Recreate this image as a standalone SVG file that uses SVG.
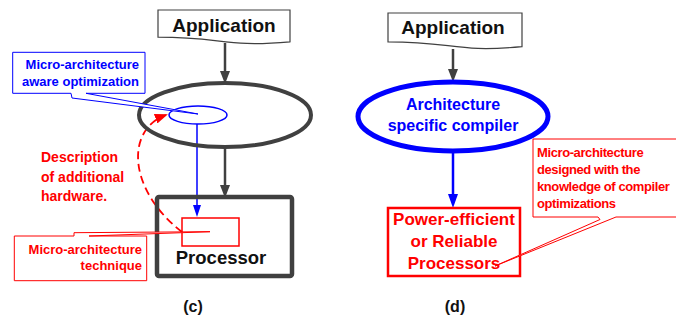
<svg xmlns="http://www.w3.org/2000/svg" width="676" height="322" viewBox="0 0 676 322">
  <style>
    text { font-family: "Liberation Sans", Arial, sans-serif; font-weight: bold; }
    .doc { fill: #ffffff; stroke: #404040; stroke-width: 1.2; }
    .docText { font-size: 19px; fill: #111111; text-anchor: middle; }
    .gray { stroke: #404040; stroke-width: 2.5; fill: none; }
    .blueThin { stroke: #0000ff; stroke-width: 1.5; fill: none; }
    .blueThick { stroke: #0000ff; stroke-width: 2.5; fill: none; }
    .redDash { stroke: #ff0000; stroke-width: 1.8; fill: none; stroke-dasharray: 8 4.5; }
    .calloutBlue { fill: #ffffff; stroke: #0000ff; stroke-width: 1; }
    .calloutRed { fill: #ffffff; stroke: #ff0000; stroke-width: 1; }
    .small { font-size: 13px; }
    .tight { letter-spacing: -0.4px; }
    .blueText { fill: #0000ff; }
    .redText { fill: #ff0000; }
    .caption { font-size: 16px; fill: #111111; text-anchor: middle; }
  </style>
  <defs>
    <marker id="headGray" markerUnits="userSpaceOnUse" viewBox="0 0 13 10" markerWidth="13" markerHeight="10" refX="7" refY="5" orient="auto">
      <path d="M0,0 L13,5 L0,10 Z" fill="#404040"/>
    </marker>
    <marker id="headBlueSmall" markerUnits="userSpaceOnUse" viewBox="0 0 12 8" markerWidth="12" markerHeight="8" refX="7" refY="4" orient="auto">
      <path d="M0,0 L12,4 L0,8 Z" fill="#0000ff"/>
    </marker>
    <marker id="headBlue" markerUnits="userSpaceOnUse" viewBox="0 0 14 10" markerWidth="14" markerHeight="10" refX="8" refY="5" orient="auto">
      <path d="M0,0 L14,5 L0,10 Z" fill="#0000ff"/>
    </marker>
    <marker id="headRed" markerUnits="userSpaceOnUse" viewBox="0 0 13 10" markerWidth="13" markerHeight="10" refX="11" refY="5" orient="auto">
      <path d="M0,0 L13,5 L0,10 Z" fill="#ff0000"/>
    </marker>
  </defs>

  <!-- connectors -->
  <g id="connectors">
    <line class="gray" x1="225" y1="43" x2="225" y2="78" marker-end="url(#headGray)"/>
    <line class="gray" x1="225" y1="148" x2="225" y2="192" marker-end="url(#headGray)"/>
    <line class="blueThin" x1="197" y1="124" x2="197" y2="212" marker-end="url(#headBlueSmall)"/>
    <path class="redDash" d="M182,232 C128,190 125,130 166,115" marker-end="url(#headRed)"/>
    <line class="gray" x1="453" y1="49" x2="453" y2="76" marker-end="url(#headGray)"/>
    <line class="blueThick" x1="453" y1="153" x2="453" y2="202" marker-end="url(#headBlue)"/>
  </g>

  <!-- (c) left panel -->
  <g id="app-c">
    <path class="doc" d="M158,10 H290 V41.8 C224,47.6 224,37.2 158,37.2 Z"/>
    <text class="docText" x="224" y="32">Application</text>
  </g>

  <g id="compiler-c">
    <ellipse cx="225" cy="115" rx="86" ry="32" fill="none" stroke="#404040" stroke-width="4"/>
  </g>

  <g id="optimization-c">
    <ellipse cx="198" cy="115" rx="29" ry="9" fill="none" stroke="#0000ff" stroke-width="1.5"/>
  </g>

  <g id="processor-c">
    <rect x="157" y="197" width="135" height="79" rx="2" fill="none" stroke="#404040" stroke-width="4.5"/>
    <text x="221" y="264" font-size="18.5px" fill="#111111" text-anchor="middle">Processor</text>
  </g>

  <g id="technique-c">
    <rect x="182" y="218" width="57" height="28" fill="none" stroke="#ff0000" stroke-width="1.5"/>
  </g>

  <g id="description-c">
    <text class="redText" font-size="14px" x="41" y="162">Description</text>
    <text class="redText" font-size="14px" x="41" y="182">of additional</text>
    <text class="redText" font-size="14px" x="41" y="201">hardware.</text>
  </g>

  <g id="callout-opt">
    <path class="calloutBlue" d="M12.7,52.3 H145 V93.3 H86 L198,114 L72,98 L71,93.3 H12.7 Z"/>
    <text class="small blueText" x="139" y="69" text-anchor="end">Micro-architecture</text>
    <text class="small blueText" x="139" y="86" text-anchor="end">aware optimization</text>
  </g>

  <g id="callout-tech">
    <path class="calloutRed" d="M14.3,236 H74 V232.7 L210,231.7 L89,236 H146.7 V280.7 H14.3 Z"/>
    <text class="small redText" x="142" y="254" text-anchor="end">Micro-architecture</text>
    <text class="small redText" x="142" y="270" text-anchor="end">technique</text>
  </g>

  <g id="label-c">
    <text class="caption" x="193" y="312">(c)</text>
  </g>

  <!-- (d) right panel -->
  <g id="app-d">
    <path class="doc" d="M388,13 H522 V46.6 C455,52.9 455,41.8 388,41.8 Z"/>
    <text class="docText" x="453" y="34">Application</text>
  </g>

  <g id="compiler-d">
    <ellipse cx="453" cy="116.5" rx="95" ry="34.5" fill="none" stroke="#0000ff" stroke-width="5"/>
    <text x="453" y="110" font-size="16px" fill="#0000ff" text-anchor="middle">Architecture</text>
    <text x="453" y="131" font-size="16px" fill="#0000ff" text-anchor="middle">specific compiler</text>
  </g>

  <g id="processors-d">
    <rect x="388" y="208" width="132" height="68" fill="#ffffff" stroke="#ff0000" stroke-width="2.5"/>
    <text x="454" y="225" font-size="17px" fill="#ff0000" text-anchor="middle">Power-efficient</text>
    <text x="454" y="247" font-size="17px" fill="#ff0000" text-anchor="middle">or Reliable</text>
    <text x="454" y="269" font-size="17px" fill="#ff0000" text-anchor="middle">Processors</text>
  </g>

  <g id="callout-design">
    <path class="calloutRed" d="M533,139 H680 V217 H616 L495,266 L600,219.5 L598,217 H533 Z"/>
    <text class="small redText tight" x="537" y="157">Micro-architecture</text>
    <text class="small redText tight" x="537" y="174">designed with the</text>
    <text class="small redText tight" x="537" y="191">knowledge of compiler</text>
    <text class="small redText tight" x="537" y="208">optimizations</text>
  </g>

  <g id="label-d">
    <text class="caption" x="455" y="312">(d)</text>
  </g>
</svg>
